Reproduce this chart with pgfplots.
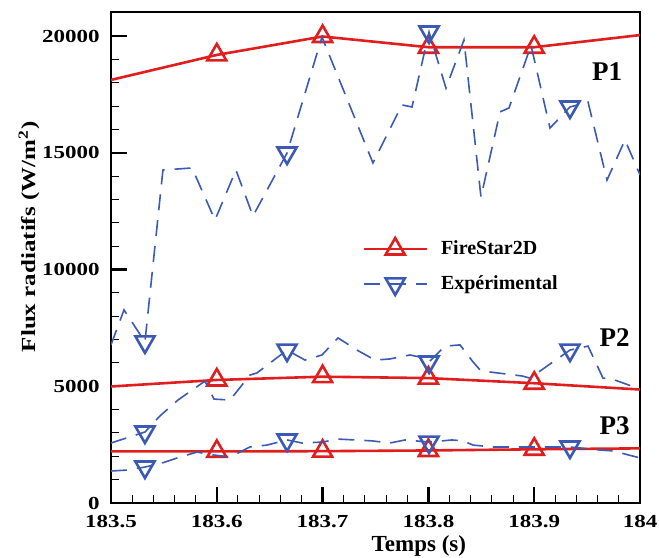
\documentclass[border=0pt]{standalone}
\usepackage{fontspec}
\setmainfont{Liberation Serif}
\newfontfamily\tickfont{Liberation Serif}[FakeStretch=1.25]
\usepackage{pgfplots}
\pgfplotsset{compat=1.18}
\definecolor{fsred}{RGB}{225,30,30}
\definecolor{exblue}{RGB}{60,90,180}
\begin{document}
\begin{tikzpicture}
\begin{axis}[
  scale only axis, width=264.5pt, height=245.5pt,
  xmin=183.5, xmax=184, ymin=0, ymax=21030,
  scaled y ticks=false, scaled x ticks=false,
  clip mode=individual,
  axis line style={line width=1.3pt},
  xtick={183.5,183.6,183.7,183.8,183.9,184},
  xticklabels={183.5,183.6,183.7,183.8,183.9,184},
  minor x tick num=4,
  ytick={0,5000,10000,15000,20000},
  yticklabels={0,5000,10000,15000,20000},
  minor y tick num=4,
  tick align=inside, xtick pos=bottom, ytick pos=left,
  major tick length=8pt, minor tick length=4pt,
  every major tick/.style={line width=1.2pt, black},
  every minor tick/.style={line width=0.5pt, black},
  ticklabel style={font=\tickfont\bfseries\fontsize{9.2}{11}\selectfont},
  xticklabel style={inner sep=0pt, anchor=north, yshift=-6pt},
  yticklabel style={inner sep=0pt, anchor=east, xshift=-5.5pt},
  xlabel={Temps (s)},
  xlabel style={font=\bfseries\fontsize{11.5}{13}\selectfont, at={(axis description cs:0.582,0)}, anchor=north, yshift=-16pt, inner sep=0pt},
  ylabel={Flux radiatifs (W/m\textsuperscript{2})},
  ylabel style={font=\tickfont\bfseries\fontsize{10}{12}\selectfont, at={(axis description cs:-0.155,0.542)}, anchor=center, inner sep=0pt},
  legend style={draw=none, fill=none, at={(axis description cs:0.4745,0.4817)}, anchor=west, inner sep=0pt, row sep=1pt,
    font=\bfseries\fontsize{10}{12}\selectfont, legend cell align=left,
    nodes={inner sep=4pt},
    /tikz/every odd column/.append style={column sep=2.5pt}},
  legend image code/.code={\draw[mark indices={2}] plot coordinates {(0pt,0pt) (15.75pt,0pt) (31.5pt,0pt)};},
]
% FireStar2D P1
\addplot[color=fsred, line width=1.3pt, mark=triangle, mark size=5.5pt, mark options={solid, line width=1.3pt}, mark indices={2,3,4,5}]
coordinates {(183.5,18120) (183.6,19190) (183.7,19980) (183.8,19520) (183.9,19520) (184,20040)};
\addlegendentry{FireStar2D}
% Experimental P1
\addplot[color=exblue, line width=0.8pt, dash pattern=on 8pt off 5pt, mark=triangle, mark size=5.5pt, mark options={solid, rotate=180, line width=1.3pt}, mark indices={3,9,14,22}]
coordinates {
(183.5000,6770) (183.5123,8270) (183.5321,6900) (183.5491,14260) (183.5766,14350)
(183.5983,12120) (183.6181,14260) (183.6342,12290) (183.6664,14990) (183.6994,19960)
(183.7476,14560) (183.7750,17050) (183.7845,16960) (183.8006,20170) (183.8166,17770)
(183.8336,19830) (183.8497,13100) (183.8677,16750) (183.8762,16920) (183.8970,19600)
(183.9149,16060) (183.9338,16960) (183.9509,17170) (183.9688,13830) (183.9858,15550)
(184.0000,14050)};
\addlegendentry{Expérimental}
% FireStar2D P2
\addplot[forget plot, color=fsred, line width=1.3pt, mark=triangle, mark size=5.5pt, mark options={solid, line width=1.3pt}, mark indices={2,3,4,5}]
coordinates {(183.5,4990) (183.6,5270) (183.7,5410) (183.8,5350) (183.9,5130) (184,4860)};
% FireStar2D P3
\addplot[forget plot, color=fsred, line width=1.3pt, mark=triangle, mark size=5.5pt, mark options={solid, line width=1.3pt}, mark indices={2,3,4,5}]
coordinates {(183.5,2210) (183.6,2210) (183.7,2220) (183.8,2250) (183.9,2300) (184,2340)};
% Experimental P2
\addplot[forget plot, color=exblue, line width=0.8pt, dash pattern=on 8pt off 5pt, mark=triangle, mark size=5.5pt, mark options={solid, rotate=180, line width=1.3pt}, mark indices={2,10,19,28}]
coordinates {
(183.5000,2570) (183.5321,3040) (183.5463,3730) (183.5633,4410) (183.5888,5220)
(183.5974,4450) (183.6125,4410) (183.6314,5480) (183.6380,5570) (183.6664,6550)
(183.6834,6120) (183.6994,6340) (183.7146,7070) (183.7325,6550) (183.7495,6120)
(183.7637,6170) (183.7826,6340) (183.7921,6250) (183.8006,6040) (183.8157,6720)
(183.8299,6770) (183.8422,6040) (183.8488,5700) (183.8582,5610) (183.8743,5520)
(183.8885,5440) (183.8960,5350) (183.9338,6550) (183.9509,6720) (183.9650,5350)
(183.9735,5310) (184.0000,4880)};
% Experimental P3
\addplot[forget plot, color=exblue, line width=0.8pt, dash pattern=on 8pt off 5pt, mark=triangle, mark size=5.5pt, mark options={solid, rotate=180, line width=1.3pt}, mark indices={3,11,19,25}]
coordinates {
(183.5000,1370) (183.5151,1410) (183.5321,1540) (183.5482,1710) (183.5652,1970)
(183.5813,2180) (183.5964,2060) (183.6125,1970) (183.6314,2400) (183.6474,2480)
(183.6664,2700) (183.6805,2570) (183.7004,2610) (183.7136,2740) (183.7306,2700)
(183.7467,2660) (183.7637,2570) (183.7779,2700) (183.8006,2610) (183.8223,2700)
(183.8327,2660) (183.8422,2480) (183.8611,2400) (183.8752,2400) (183.9338,2400)
(183.9622,2270) (183.9745,2230) (184.0000,1930)};
\node[font=\bfseries\fontsize{13.5}{15}\selectfont] at (axis cs:183.969,18460) {P1};
\node[font=\bfseries\fontsize{13.5}{15}\selectfont] at (axis cs:183.976,7070) {P2};
\node[font=\bfseries\fontsize{13.5}{15}\selectfont] at (axis cs:183.976,3300) {P3};
\path (rel axis cs:-0.2098,-0.1120) rectangle (rel axis cs:1.0359,1.0244);
\end{axis}
\end{tikzpicture}
\end{document}
